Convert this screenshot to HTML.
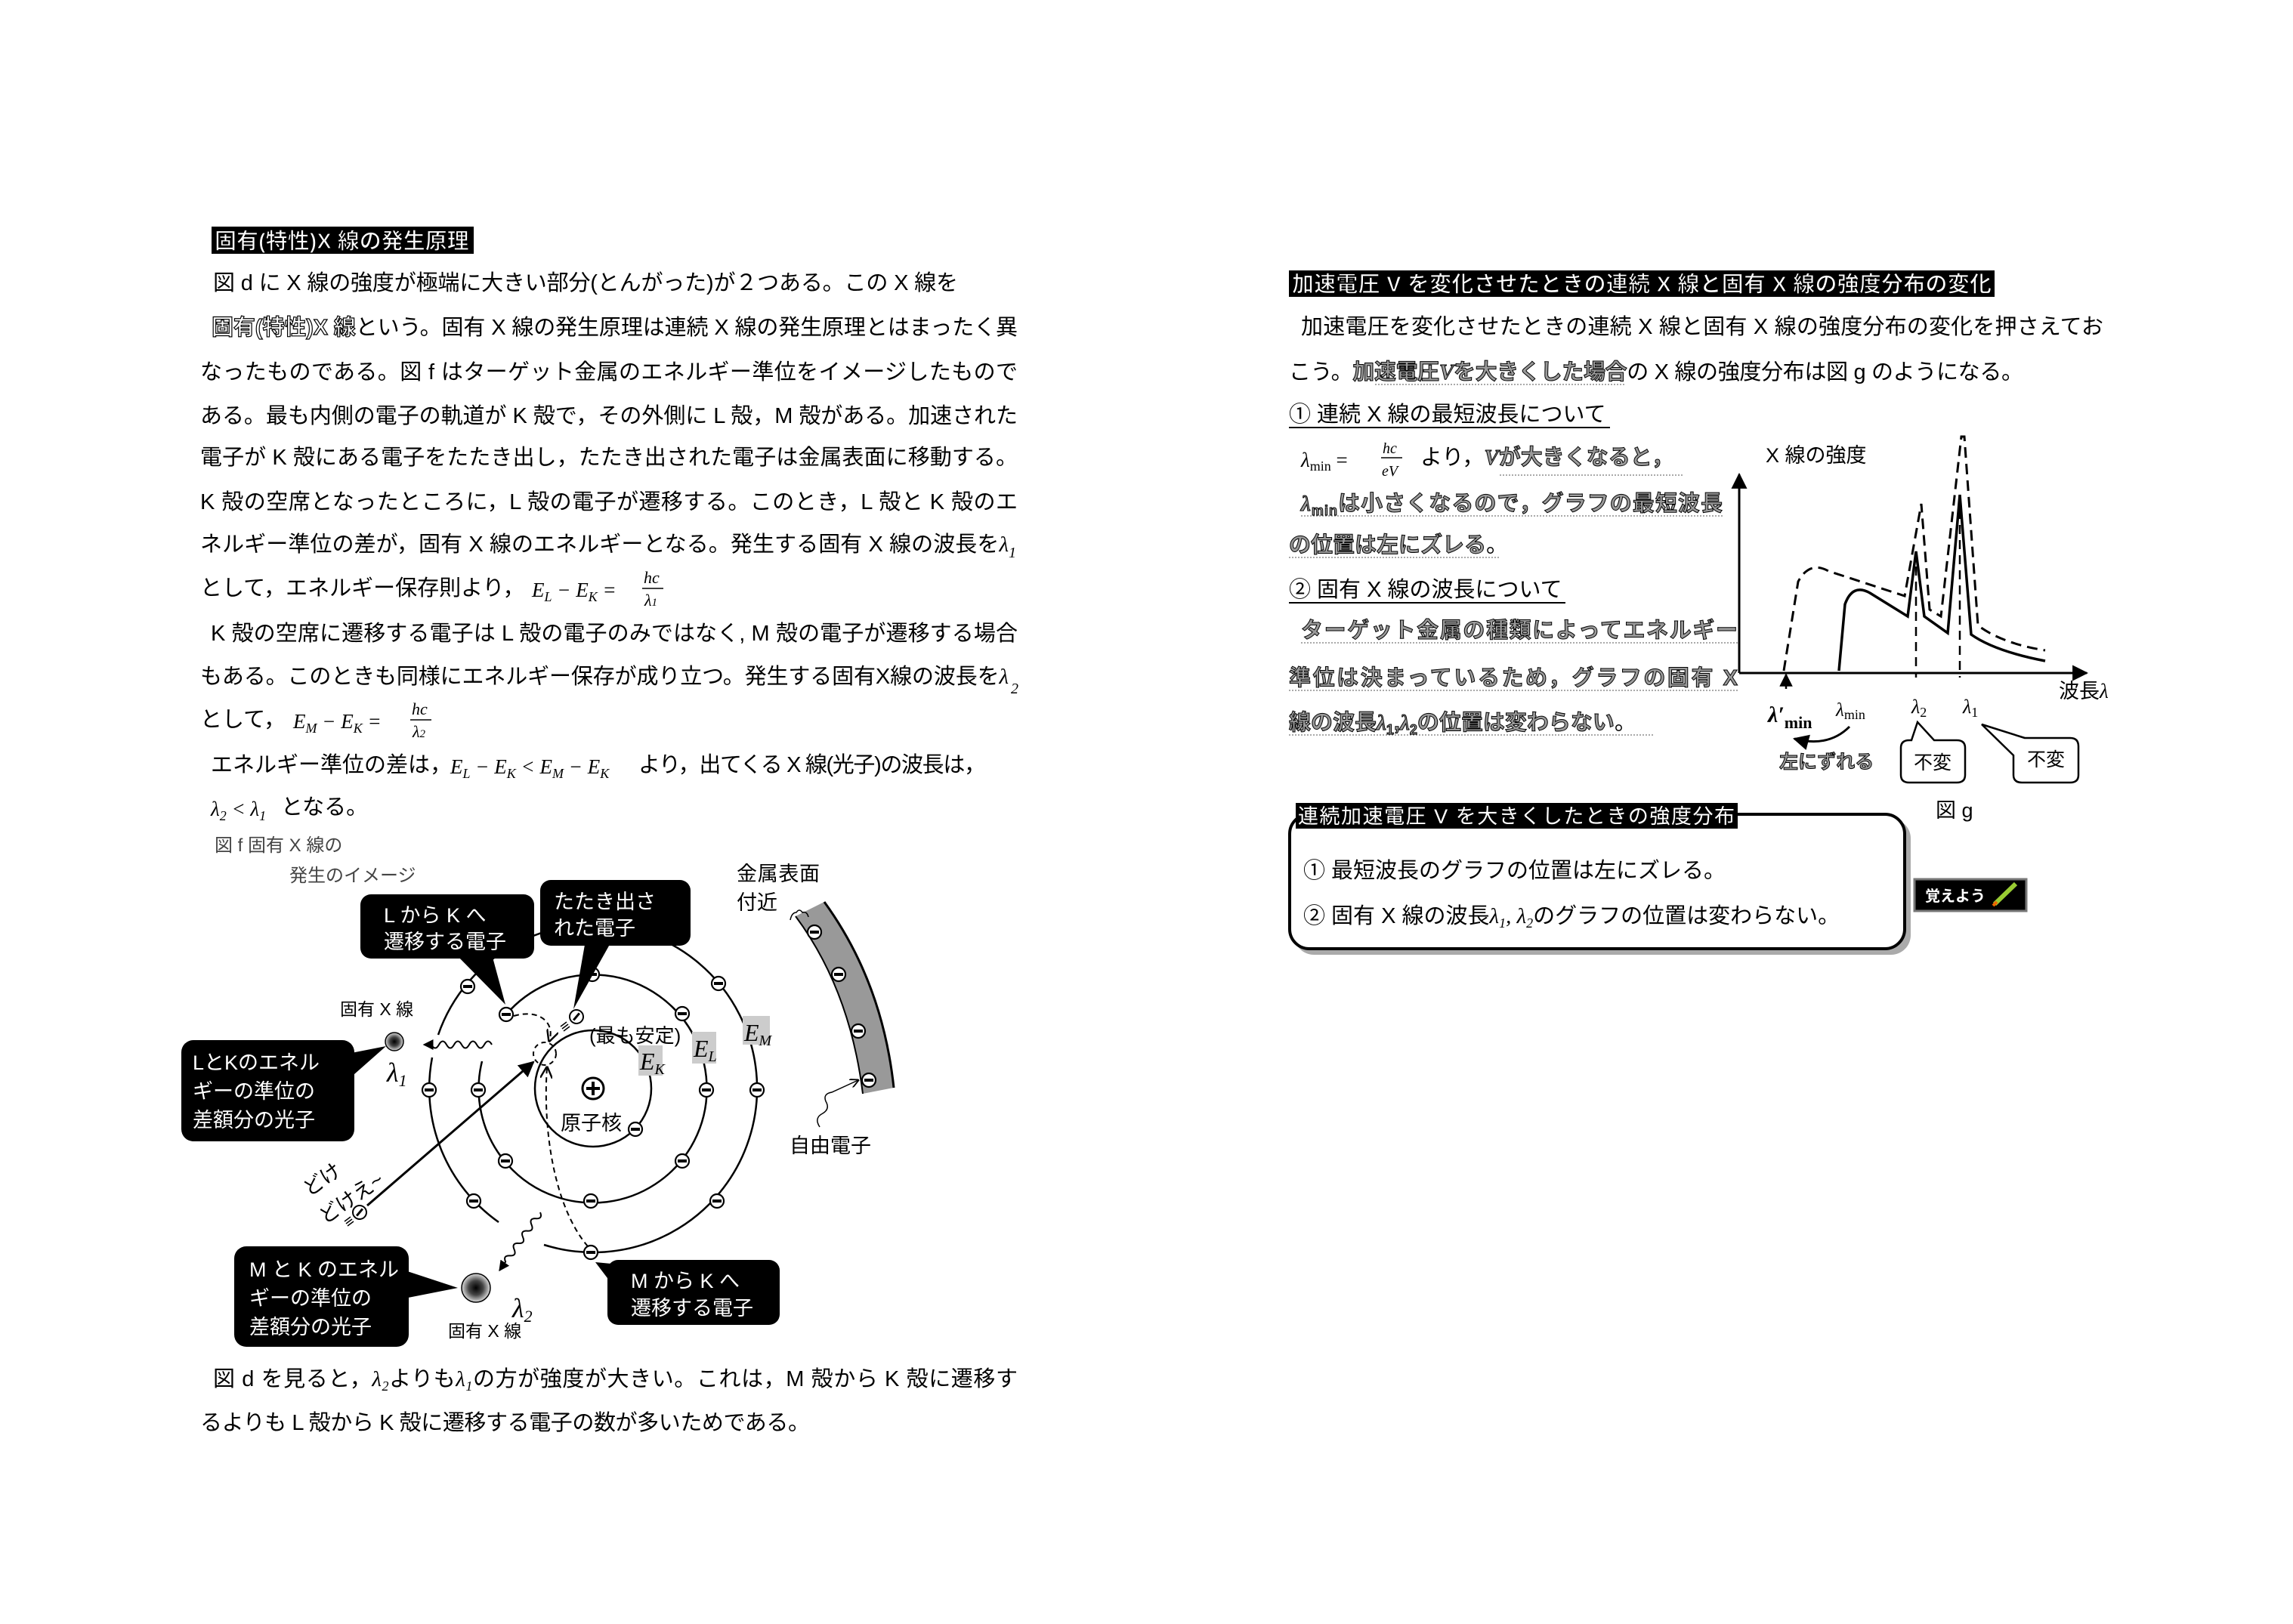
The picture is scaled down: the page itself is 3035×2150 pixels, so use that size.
<!DOCTYPE html>
<html><head><meta charset="utf-8"><style>
html,body{margin:0;padding:0;background:#fff}
svg{display:block}
text{font-family:"Liberation Sans","Noto Sans CJK JP",sans-serif}
.m{font-family:"Liberation Serif","DejaVu Serif",serif;font-style:italic}
.ol{fill:#fff;stroke:#000;stroke-width:1.2px;paint-order:normal}
.gy{fill:#9a9a9a;stroke:#000;stroke-width:1px;font-weight:bold}
</style></head><body>
<svg width="3035" height="2150" viewBox="0 0 3035 2150" xmlns="http://www.w3.org/2000/svg">
<defs>
<marker id="ah" viewBox="0 0 10 10" refX="9" refY="5" markerWidth="7" markerHeight="7" orient="auto"><path d="M0,0 L10,5 L0,10 z" fill="#000"/></marker>
<marker id="ao" viewBox="0 0 10 10" refX="9" refY="5" markerWidth="8" markerHeight="8" orient="auto"><path d="M0,0 L10,5 L0,10" fill="none" stroke="#000" stroke-width="1.5"/></marker>
<radialGradient id="ball"><stop offset="0" stop-color="#000"/><stop offset="0.5" stop-color="#444"/><stop offset="1" stop-color="#ddd"/></radialGradient>
<g id="el"><circle r="9" fill="#fff" stroke="#000" stroke-width="2.2"/><rect x="-6" y="-2" width="12" height="4" fill="#000"/></g>
</defs>

<!-- LEFT COLUMN -->
<rect x="280" y="300" width="347" height="36" fill="#000"/>
<text x="284" y="329" font-size="29" class="ol" font-weight="bold">固有(特性)X 線の発生原理</text>

<g font-size="29" fill="#000">
<text x="282" y="384" textLength="986" lengthAdjust="spacing">図 d に X 線の強度が極端に大きい部分(とんがった)が２つある。この X 線を</text>
<text x="280" y="443" textLength="1067" lengthAdjust="spacing"><tspan class="ol" font-weight="bold">固有(特性)X 線</tspan>という。固有 X 線の発生原理は連続 X 線の発生原理とはまったく異</text>
<text x="265" y="502" textLength="1082" lengthAdjust="spacing">なったものである。図 f はターゲット金属のエネルギー準位をイメージしたもので</text>
<text x="265" y="560" textLength="1082" lengthAdjust="spacing">ある。最も内側の電子の軌道が K 殻で，その外側に L 殻，M 殻がある。加速された</text>
<text x="265" y="615" textLength="1082" lengthAdjust="spacing">電子が K 殻にある電子をたたき出し，たたき出された電子は金属表面に移動する。</text>
<text x="265" y="674" textLength="1082" lengthAdjust="spacing">K 殻の空席となったところに，L 殻の電子が遷移する。このとき，L 殻と K 殻のエ</text>
<text x="265" y="730" textLength="1070" lengthAdjust="spacing">ネルギー準位の差が，固有 X 線のエネルギーとなる。発生する固有 X 線の波長を<tspan class="m">λ</tspan></text>
<text x="1335" y="738" font-size="20" class="m">1</text>
<text x="265" y="788">として，エネルギー保存則より，</text>
<text x="704" y="790" class="m" font-size="27">E<tspan font-size="18" dy="6">L</tspan><tspan dy="-6"> − E</tspan><tspan font-size="18" dy="6">K</tspan><tspan dy="-6"> =</tspan></text>
<text x="852" y="772" class="m" font-size="22">hc</text><line x1="850" y1="779" x2="878" y2="779" stroke="#000" stroke-width="1.5"/>
<text x="853" y="802" class="m" font-size="22">λ<tspan font-size="15">1</tspan></text>
<text x="279" y="848" textLength="1068" lengthAdjust="spacing">K 殻の空席に遷移する電子は L 殻の電子のみではなく, M 殻の電子が遷移する場合</text>
<text x="265" y="905" textLength="1070" lengthAdjust="spacing">もある。このときも同様にエネルギー保存が成り立つ。発生する固有X線の波長を<tspan class="m">λ</tspan></text>
<text x="1338" y="918" font-size="20" class="m">2</text>
<text x="265" y="962">として，</text>
<text x="388" y="964" class="m" font-size="27">E<tspan font-size="18" dy="6">M</tspan><tspan dy="-6"> − E</tspan><tspan font-size="18" dy="6">K</tspan><tspan dy="-6"> =</tspan></text>
<text x="545" y="946" class="m" font-size="22">hc</text><line x1="543" y1="953" x2="571" y2="953" stroke="#000" stroke-width="1.5"/>
<text x="546" y="976" class="m" font-size="22">λ<tspan font-size="15">2</tspan></text>
<text x="279" y="1022">エネルギー準位の差は，</text>
<text x="596" y="1024" class="m" font-size="27">E<tspan font-size="18" dy="6">L</tspan><tspan dy="-6"> − E</tspan><tspan font-size="18" dy="6">K</tspan><tspan dy="-6"> &lt; E</tspan><tspan font-size="18" dy="6">M</tspan><tspan dy="-6"> − E</tspan><tspan font-size="18" dy="6">K</tspan></text>
<text x="845" y="1022" textLength="460" lengthAdjust="spacing">より，出てくる X 線(光子)の波長は，</text>
<text x="279" y="1080" class="m" font-size="27">λ<tspan font-size="18" dy="6">2</tspan><tspan dy="-6"> &lt; λ</tspan><tspan font-size="18" dy="6">1</tspan></text>
<text x="372" y="1078">となる。</text>
</g>

<!-- Figure f -->
<g font-size="24" fill="#444">
<text x="284" y="1127">図 f  固有 X 線の</text>
<text x="383" y="1167">発生のイメージ</text>
</g>

<g fill="none" stroke="#000" stroke-width="2.5">
<circle cx="785" cy="1441" r="77"/>
<path d="M 670 1343 A 151 151 0 1 1 638 1405"/>
<path d="M 720 1648 A 217 217 0 1 0 580 1370"/>
<path d="M 572 1400 A 217 217 0 0 0 660 1618"/>
</g>
<!-- nucleus -->
<circle cx="785" cy="1441" r="14" fill="#fff" stroke="#000" stroke-width="3"/>
<path d="M776 1441 H794 M785 1432 V1450" stroke="#000" stroke-width="4"/>
<!-- electrons -->
<use href="#el" x="841" y="1495"/>
<use href="#el" x="670" y="1343"/><use href="#el" x="903" y="1342"/><use href="#el" x="935" y="1443"/><use href="#el" x="633" y="1443"/><use href="#el" x="669" y="1537"/><use href="#el" x="903" y="1537"/><use href="#el" x="782" y="1590"/><use href="#el" x="784" y="1290"/>
<use href="#el" x="619" y="1306"/><use href="#el" x="951" y="1302"/><use href="#el" x="568" y="1443"/><use href="#el" x="1002" y="1443"/><use href="#el" x="627" y="1590"/><use href="#el" x="949" y="1590"/><use href="#el" x="782" y="1658"/>
<!-- knocked electron -->
<g transform="translate(763,1346) rotate(-50)"><circle r="9" fill="#fff" stroke="#000" stroke-width="2"/><rect x="-6" y="-1.5" width="12" height="3"/></g>
<path d="M752 1356 l-8 6 M754 1359 l-8 6 M750 1353 l-8 6" stroke="#000" stroke-width="1.5"/>
<!-- incoming electron -->
<g transform="translate(476,1605) rotate(-50)"><circle r="9" fill="#fff" stroke="#000" stroke-width="2"/><rect x="-6" y="-1.5" width="12" height="3"/></g>
<path d="M466 1614 l-8 6 M468 1617 l-8 6 M464 1611 l-8 6" stroke="#000" stroke-width="1.5"/>
<line x1="486" y1="1596" x2="706" y2="1406" stroke="#000" stroke-width="3" marker-end="url(#ah)"/>
<!-- dashed -->
<circle cx="721" cy="1395" r="15" fill="none" stroke="#000" stroke-width="2" stroke-dasharray="6 5"/>
<path d="M680 1345 C 715 1335 735 1355 727 1378" fill="none" stroke="#000" stroke-width="2" stroke-dasharray="7 5" marker-end="url(#ao)"/>
<path d="M778 1650 C 735 1600 718 1500 724 1413" fill="none" stroke="#000" stroke-width="2" stroke-dasharray="7 5" marker-end="url(#ao)"/>
<!-- waves -->
<path d="M651 1383 q-5 -9 -10 0 t-10 0 t-10 0 t-10 0 t-10 0 t-10 0 t-10 0 t-10 0 l-10 0" fill="none" stroke="#000" stroke-width="2" marker-end="url(#ah)"/>
<g transform="translate(715,1605) rotate(125)"><path d="M0 0 q5 -8 10 0 t10 0 t10 0 t10 0 t10 0 t10 0 t10 0 t10 0 l14 0" fill="none" stroke="#000" stroke-width="2" marker-end="url(#ah)"/></g>
<!-- photons -->
<circle cx="522" cy="1379" r="12" fill="url(#ball)" stroke="#000" stroke-width="1.5"/>
<circle cx="630" cy="1705" r="19" fill="url(#ball)" stroke="#000" stroke-width="1.5"/>
<text x="512" y="1432" class="m" font-size="36">λ<tspan font-size="22" dy="6">1</tspan></text>
<text x="678" y="1744" class="m" font-size="36">λ<tspan font-size="22" dy="6">2</tspan></text>
<text x="450" y="1344" font-size="23">固有 X 線</text>
<text x="593" y="1770" font-size="23">固有 X 線</text>

<!-- callouts -->
<g fill="#000">
<rect x="477" y="1184" width="230" height="85" rx="14"/><polygon points="600,1260 650,1260 669,1330"/>
<rect x="715" y="1165" width="199" height="87" rx="14"/><polygon points="775,1245 810,1245 759,1336"/>
<rect x="240" y="1377" width="229" height="134" rx="16"/><polygon points="460,1395 460,1430 511,1385"/>
<rect x="310" y="1650" width="231" height="133" rx="16"/><polygon points="530,1680 530,1720 606,1705"/>
<rect x="804" y="1668" width="228" height="86" rx="14"/><polygon points="810,1700 830,1675 788,1671"/>
</g>
<g fill="#fff" font-size="27">
<text x="508" y="1221">L から K へ</text><text x="508" y="1256">遷移する電子</text>
<text x="733" y="1203">たたき出さ</text><text x="733" y="1238">れた電子</text>
<text x="255" y="1416">LとKのエネル</text><text x="255" y="1454">ギーの準位の</text><text x="255" y="1492">差額分の光子</text>
<text x="330" y="1690">M と K のエネル</text><text x="330" y="1728">ギーの準位の</text><text x="330" y="1766">差額分の光子</text>
<text x="835" y="1705">M から K へ</text><text x="835" y="1741">遷移する電子</text>
</g>
<!-- energy labels -->
<rect x="845" y="1384" width="32" height="40" fill="#ccc"/><text x="847" y="1416" class="m" font-size="32">E<tspan font-size="20" dy="6">K</tspan></text>
<rect x="916" y="1366" width="32" height="42" fill="#ccc"/><text x="918" y="1399" class="m" font-size="32">E<tspan font-size="20" dy="6">L</tspan></text>
<rect x="983" y="1345" width="36" height="38" fill="#ccc"/><text x="985" y="1378" class="m" font-size="32">E<tspan font-size="20" dy="6">M</tspan></text>
<text x="780" y="1380" font-size="26">(最も安定)</text>
<text x="742" y="1496" font-size="27">原子核</text>
<text x="400" y="1575" font-size="27" transform="rotate(-35 420 1565)">どけ</text>
<text x="420" y="1612" font-size="27" transform="rotate(-35 440 1600)">どけえ~</text>
<!-- metal -->
<path d="M1091 1194 Q1168 1300 1183 1440 L1142 1448 Q1125 1310 1053 1213 Z" fill="#999"/>
<path d="M1091 1194 Q1168 1300 1183 1440" fill="none" stroke="#000" stroke-width="3"/>
<path d="M1053 1213 Q1125 1310 1142 1448" fill="none" stroke="#000" stroke-width="2"/>
<use href="#el" x="1078" y="1234"/><use href="#el" x="1110" y="1290"/><use href="#el" x="1136" y="1365"/><use href="#el" x="1150" y="1430"/>
<text x="975" y="1166" font-size="27" textLength="110" lengthAdjust="spacing">金属表面</text>
<text x="975" y="1204" font-size="27">付近</text>
<path d="M1046 1218 q2 -10 8 -10 q4 -6 8 0 q6 -2 8 6" fill="none" stroke="#000" stroke-width="1.5"/>
<text x="1045" y="1526" font-size="27">自由電子</text>
<path d="M1085 1492 q-8 -12 4 -18 q10 -6 4 -16 q-4 -10 8 -12 l35 -16" fill="none" stroke="#000" stroke-width="1.5" marker-end="url(#ao)"/>

<g font-size="29">
<text x="282" y="1835" textLength="1065" lengthAdjust="spacing">図 d を見ると，<tspan class="m">λ</tspan><tspan class="m" font-size="18" dy="6">2</tspan><tspan dy="-6">よりも</tspan><tspan class="m">λ</tspan><tspan class="m" font-size="18" dy="6">1</tspan><tspan dy="-6">の方が強度が大きい。これは，M 殻から K 殻に遷移す</tspan></text>
<text x="265" y="1893" textLength="807" lengthAdjust="spacing">るよりも L 殻から K 殻に遷移する電子の数が多いためである。</text>
</g>

<!-- RIGHT COLUMN -->
<rect x="1706" y="358" width="934" height="35" fill="#000"/>
<text x="1710" y="386" font-size="29" class="ol" font-weight="bold" textLength="926" lengthAdjust="spacing">加速電圧 V を変化させたときの連続 X 線と固有 X 線の強度分布の変化</text>
<g font-size="29">
<text x="1722" y="442" textLength="1062" lengthAdjust="spacing">加速電圧を変化させたときの連続 X 線と固有 X 線の強度分布の変化を押さえてお</text>
<text x="1706" y="502" textLength="972" lengthAdjust="spacing">こう。<tspan class="gy">加速電圧</tspan><tspan class="gy m">V</tspan><tspan class="gy">を大きくした場合</tspan>の X 線の強度分布は図 g のようになる。</text>
<text x="1706" y="558">① 連続 X 線の最短波長について</text>
<line x1="1706" y1="566" x2="2131" y2="566" stroke="#000" stroke-width="2"/>
<text x="1722" y="618" class="m" font-size="27">λ<tspan font-size="18" dy="5" font-style="normal">min</tspan><tspan dy="-5" font-style="normal"> =</tspan></text>
<text x="1830" y="600" class="m" font-size="20">hc</text><line x1="1828" y1="606" x2="1856" y2="606" stroke="#000" stroke-width="1.5"/>
<text x="1829" y="630" class="m" font-size="20">eV</text>
<text x="1880" y="615">より，<tspan class="gy m">V</tspan><tspan class="gy">が大きくなると，</tspan></text>
<text x="1722" y="676" textLength="558" lengthAdjust="spacing" class="gy"><tspan class="m">λ</tspan><tspan font-size="18" dy="6">min</tspan><tspan dy="-6">は小さくなるので，グラフの最短波長</tspan></text>
<text x="1706" y="731" class="gy">の位置は左にズレる<tspan fill="#000" stroke="none" font-weight="normal">。</tspan></text>
<text x="1706" y="790">② 固有 X 線の波長について</text>
<line x1="1706" y1="798" x2="2072" y2="798" stroke="#000" stroke-width="2"/>
<text x="1722" y="844" textLength="578" lengthAdjust="spacing" class="gy">ターゲット金属の種類によってエネルギー</text>
<text x="1706" y="907" textLength="594" lengthAdjust="spacing" class="gy">準位は決まっているため，グラフの固有 X</text>
<text x="1706" y="966" class="gy">線の波長<tspan class="m">λ</tspan><tspan font-size="18" dy="6">1</tspan><tspan dy="-6">,</tspan><tspan class="m">λ</tspan><tspan font-size="18" dy="6">2</tspan><tspan dy="-6">の位置は変わらない</tspan><tspan fill="#000" stroke="none" font-weight="normal">。</tspan></text>
</g>
<g stroke="#555" stroke-width="1" stroke-dasharray="2 2">
<line x1="1985" y1="629" x2="2228" y2="629"/><line x1="1722" y1="683" x2="2280" y2="683"/><line x1="1706" y1="738" x2="1985" y2="738"/>
<line x1="1722" y1="851" x2="2300" y2="851"/><line x1="1706" y1="914" x2="2300" y2="914"/><line x1="1706" y1="973" x2="2190" y2="973"/>
<line x1="1820" y1="509" x2="2150" y2="509"/>
</g>

<!-- graph -->
<line x1="2302" y1="891" x2="2302" y2="628" stroke="#000" stroke-width="3" marker-end="url(#ah)"/>
<line x1="2302" y1="891" x2="2762" y2="891" stroke="#000" stroke-width="3" marker-end="url(#ah)"/>
<text x="2337" y="612" font-size="27">X 線の強度</text>
<text x="2725" y="924" font-size="27">波長<tspan class="m">λ</tspan></text>
<path d="M2434 888 L2442 800 Q2452 772 2475 785 L2525 816 L2536 730 L2547 816 L2578 838 L2594 655 L2609 840 Q2640 862 2707 875" fill="none" stroke="#000" stroke-width="3.5"/>
<path d="M2361 888 L2380 770 Q2395 742 2420 756 L2521 789 L2543 667 L2554 807 L2569 816 L2596 578 L2600 578 L2618 828 Q2650 852 2707 861" fill="none" stroke="#000" stroke-width="3" stroke-dasharray="14 8"/>
<line x1="2536" y1="730" x2="2536" y2="897" stroke="#000" stroke-width="2.5" stroke-dasharray="12 8"/>
<line x1="2594" y1="655" x2="2594" y2="897" stroke="#000" stroke-width="2.5" stroke-dasharray="12 8"/>
<line x1="2364" y1="912" x2="2364" y2="893" stroke="#000" stroke-width="2.5" marker-end="url(#ah)"/>
<text x="2340" y="956" font-size="30" class="m" font-weight="bold">λ′<tspan font-size="22" font-style="normal" dy="8">min</tspan></text>
<text x="2430" y="948" class="m" font-size="25">λ<tspan font-size="18" font-style="normal" dy="4">min</tspan></text>
<text x="2530" y="944" class="m" font-size="26">λ<tspan font-size="18" font-style="normal" dy="5">2</tspan></text>
<text x="2598" y="944" class="m" font-size="26">λ<tspan font-size="18" font-style="normal" dy="5">1</tspan></text>
<path d="M2448 962 Q2420 990 2375 978" fill="none" stroke="#000" stroke-width="3" marker-end="url(#ah)"/>
<text x="2355" y="1017" font-size="25" class="gy">左にずれる</text>
<g fill="#fff" stroke="#000" stroke-width="2.5">
<path d="M2530 980 L2538 956 L2560 980 L2590 980 Q2601 980 2601 990 L2601 1026 Q2601 1036 2590 1036 L2527 1036 Q2516 1036 2516 1026 L2516 990 Q2516 980 2527 980 Z"/>
<path d="M2680 977 L2623 959 L2665 1000 L2665 1026 Q2665 1036 2676 1036 L2740 1036 Q2751 1036 2751 1026 L2751 988 Q2751 977 2740 977 Z"/>
</g>
<text x="2533" y="1018" font-size="25">不変</text>
<text x="2683" y="1014" font-size="25">不変</text>
<text x="2562" y="1082" font-size="27">図 g</text>

<!-- summary box -->
<rect x="1713" y="1084" width="816" height="180" rx="26" fill="#aaa"/>
<rect x="1707" y="1078" width="814" height="178" rx="26" fill="#fff" stroke="#000" stroke-width="4"/>
<rect x="1715" y="1063" width="585" height="34" fill="#000"/>
<text x="1718" y="1090" font-size="27" fill="#fff" textLength="578" lengthAdjust="spacing">連続加速電圧 V を大きくしたときの強度分布</text>
<text x="1725" y="1162" font-size="29">① 最短波長のグラフの位置は左にズレる。</text>
<text x="1725" y="1222" font-size="29">② 固有 X 線の波長<tspan class="m">λ</tspan><tspan font-size="18" class="m" dy="6">1</tspan><tspan dy="-6" class="m">, λ</tspan><tspan font-size="18" class="m" dy="6">2</tspan><tspan dy="-6">のグラフの位置は変わらない。</tspan></text>
<rect x="2534" y="1164" width="148" height="42" fill="#000" stroke="#777" stroke-width="3"/>
<text x="2548" y="1193" font-size="20" fill="#fff" font-weight="bold">覚えよう</text>
<line x1="2640" y1="1197" x2="2668" y2="1170" stroke="#9c3" stroke-width="6"/>
<line x1="2638" y1="1199" x2="2643" y2="1194" stroke="#e60" stroke-width="4"/>
</svg>
</body></html>
